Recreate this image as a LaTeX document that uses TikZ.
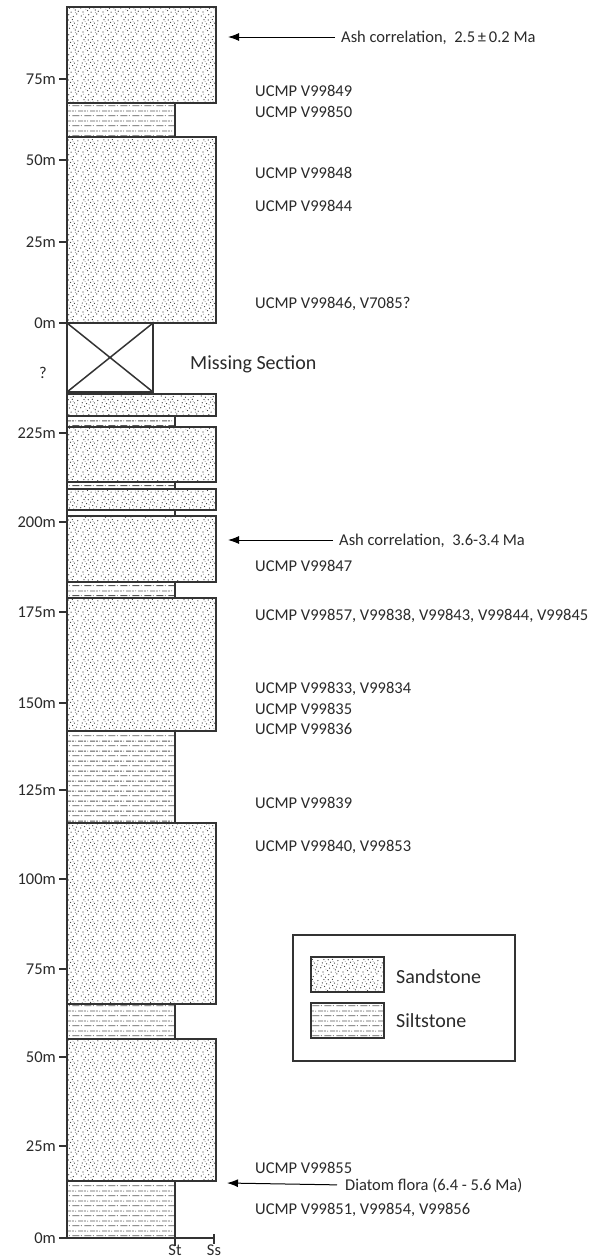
\documentclass[tikz,border=0pt]{standalone}
\usepackage{fontspec}
\setmainfont{Carlito}
\usetikzlibrary{patterns,arrows.meta}
\definecolor{linec}{HTML}{333333}
\definecolor{txtc}{HTML}{2A2A2A}
\def\mydot#1#2{\pgfpathcircle{\pgfqpoint{#1pt}{#2pt}}{0.65pt}}
\def\mydotl#1#2{\pgfpathcircle{\pgfqpoint{#1pt}{#2pt}}{0.55pt}}
\pgfdeclarepatternformonly{sandD}{\pgfpointorigin}{\pgfqpoint{20pt}{20pt}}{\pgfqpoint{20pt}{20pt}}{%
  \mydot{1.3}{2.1}\mydot{5.7}{0.8}\mydot{9.2}{3.4}\mydot{13.8}{1.6}\mydot{17.5}{4.2}%
  \mydot{3.1}{6.3}\mydot{7.9}{7.7}\mydot{11.6}{6.1}\mydot{15.9}{8.4}\mydot{19.0}{7.0}%
  \mydot{0.8}{10.5}\mydot{4.8}{11.9}\mydot{9.9}{10.2}\mydot{13.2}{12.8}\mydot{17.1}{11.3}%
  \mydot{2.4}{15.6}\mydot{6.9}{14.7}\mydot{11.0}{16.3}\mydot{15.0}{15.4}\mydot{18.6}{17.9}%
  \mydot{4.1}{19.0}\mydot{8.6}{18.8}\mydot{12.9}{19.2}%
  \pgfusepath{fill}}
\pgfdeclarepatternformonly{sandL}{\pgfpointorigin}{\pgfqpoint{20pt}{20pt}}{\pgfqpoint{20pt}{20pt}}{%
  \mydotl{3.5}{3.9}\mydotl{11.4}{0.6}\mydotl{16.2}{5.9}\mydotl{6.2}{9.1}\mydotl{14.4}{9.9}%
  \mydotl{1.9}{13.1}\mydotl{9.4}{13.6}\mydotl{18.2}{14.2}\mydotl{5.4}{17.2}\mydotl{13.7}{17.0}%
  \pgfusepath{fill}}
\pgfdeclarepatternformonly{siltP}{\pgfpointorigin}{\pgfqpoint{12pt}{10pt}}{\pgfqpoint{12pt}{10pt}}{%
  \pgfsetlinewidth{0.9pt}%
  \pgfpathmoveto{\pgfqpoint{0.5pt}{2.5pt}}\pgfpathlineto{\pgfqpoint{8pt}{2.5pt}}%
  \pgfpathmoveto{\pgfqpoint{6.5pt}{7.5pt}}\pgfpathlineto{\pgfqpoint{12pt}{7.5pt}}%
  \pgfpathmoveto{\pgfqpoint{0pt}{7.5pt}}\pgfpathlineto{\pgfqpoint{2pt}{7.5pt}}%
  \pgfusepath{stroke}%
  \pgfpathcircle{\pgfqpoint{10pt}{2.5pt}}{0.55pt}%
  \pgfpathcircle{\pgfqpoint{4pt}{7.5pt}}{0.55pt}%
  \pgfusepath{fill}}
\tikzset{
  lbl/.style={font=\fontsize{16.5}{20}\selectfont, text=txtc, inner sep=0pt, anchor=west, text height=10.6pt, text depth=0pt},
  axl/.style={font=\fontsize{16.5}{20}\selectfont, text=txtc, inner sep=0pt, anchor=east, text height=10.6pt, text depth=0pt},
  big/.style={font=\fontsize{20}{24}\selectfont, text=txtc, inner sep=0pt, anchor=west, text height=12.9pt, text depth=0pt},
  sand/.style={preaction={pattern=sandL, pattern color=black!40}, pattern=sandD, pattern color=black!80, draw=linec, line width=1.5pt},
  silt/.style={pattern=siltP, pattern color=black!65, draw=linec, line width=1.5pt},
  frame/.style={draw=linec, line width=1.5pt},
  tick/.style={draw=linec, line width=1.3pt},
  arr/.style={-{Latex[length=11pt,width=8pt]}, line width=1pt, black, shorten <=6pt},
}
\begin{document}
\begin{tikzpicture}[x=1pt,y=-1pt]
\useasboundingbox[fill=white] (0,0) rectangle (601,1258);
% strata
\foreach \a/\b in {7/103,137/323,394/416,427/482,489/510,516/582,598/731,823/1004,1039/1181}
  \draw[sand] (67,\a) rectangle (216,\b);
\foreach \a/\b in {103/137,416/427,482/489,510/516,582/598,731/823,1004/1039,1181/1238}
  \draw[silt] (67,\a) rectangle (175,\b);
% missing section
\draw[frame, fill=white] (67,323) rectangle (153,392);
\draw[frame] (67,323) -- (153,392) (67,392) -- (153,323);
% axes
\draw[frame] (67,7) -- (67,1238) -- (214,1238);
\draw[tick] (175,1238) -- (175,1246);
\draw[tick] (214,1234) -- (214,1244);
\node[axl, anchor=center] (st) at (175,1250.5) {St};
\node[axl, anchor=center] (ss) at (214,1250.5) {Ss};
% depth ticks
\foreach \n/\t/\yy in {a/75m/79,b/50m/160,c/25m/242,d/0m/323,e/225m/433,f/200m/522,g/175m/612,h/150m/703,i/125m/790,j/100m/879,k/75m/969,l/50m/1057,m/25m/1146,n/0m/1238}{
  \node[axl] (tk\n) at (56,\yy) {\t};
  \draw[tick] (59,\yy) -- (67,\yy);
}
\node[axl, anchor=center] (qm) at (43,373) {?};
\node[big] (miss) at (190,363) {Missing Section};
% arrows
\coordinate (tip1) at (228,37);
\coordinate (tip2) at (228,540);
\coordinate (tip3) at (227,1183);
\node[lbl] (ash1) at (341,37) {Ash correlation,\ \ 2.5\,±\,0.2 Ma};
\node[lbl] (ash2) at (339,540) {Ash correlation,\ \ 3.6-3.4 Ma};
\node[lbl] (diat) at (345,1185) {Diatom flora (6.4 - 5.6 Ma)};
\draw[arr] (ash1.west) -- (tip1);
\draw[arr] (ash2.west) -- (tip2);
\draw[arr, shorten <=8pt] (diat.west) -- (tip3);
% collection labels
\node[lbl] (c1) at (255,91) {UCMP V99849};
\node[lbl] (c2) at (255,112) {UCMP V99850};
\node[lbl] (c3) at (255,173) {UCMP V99848};
\node[lbl] (c4) at (255,206) {UCMP V99844};
\node[lbl] (c5) at (255,303) {UCMP V99846, V7085?};
\node[lbl] (c6) at (255,566) {UCMP V99847};
\node[lbl] (c7) at (255,615) {UCMP V99857, V99838, V99843, V99844, V99845};
\node[lbl] (c8) at (255,688) {UCMP V99833, V99834};
\node[lbl] (c9) at (255,709) {UCMP V99835};
\node[lbl] (c10) at (255,729) {UCMP V99836};
\node[lbl] (c11) at (255,803) {UCMP V99839};
\node[lbl] (c12) at (255,846) {UCMP V99840, V99853};
\node[lbl] (c13) at (255,1168) {UCMP V99855};
\node[lbl] (c14) at (255,1209) {UCMP V99851, V99854, V99856};
% legend
\draw[frame] (293,935) rectangle (515,1061);
\draw[sand, line width=1.3pt] (311,957) rectangle (384,992);
\draw[silt, line width=1.3pt] (311,1003) rectangle (384,1038);
\node[big] (lsand) at (396,977) {Sandstone};
\node[big] (lsilt) at (396,1021) {Siltstone};
\end{tikzpicture}
\end{document}
